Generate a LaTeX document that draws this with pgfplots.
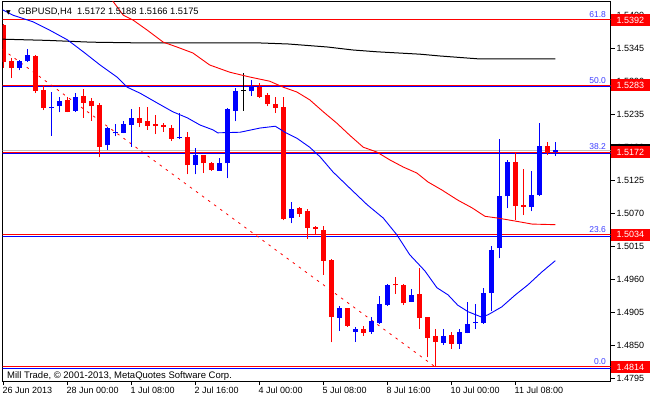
\documentclass[border=0pt]{standalone}
\usepackage{fontspec}
\setmainfont{Liberation Sans}
\usepackage{pgfplots}
\usepackage{pgfplotstable}
\pgfplotsset{compat=1.18}

\definecolor{lvlblue}{RGB}{60,60,255}
\definecolor{bidgray}{RGB}{192,192,192}

% H4 candles, k = bar index (26 Jun 16:00 = 0)
\pgfplotstableread{
k O H L C
2 1.5312 1.5326 1.5308 1.5324
3 1.5323 1.5344 1.5322 1.5334
6 1.5245 1.5272 1.5199 1.5247
7 1.5248 1.5264 1.5238 1.5257
9 1.5241 1.5271 1.5239 1.5264
13 1.5183 1.5214 1.5175 1.5212
14 1.5203 1.5218 1.5198 1.5205
15 1.5204 1.5223 1.5203 1.5218
16 1.5217 1.5244 1.5181 1.5228
22 1.5195 1.5237 1.5193 1.5196
24 1.5150 1.5178 1.5135 1.5167
27 1.5141 1.5162 1.5141 1.5154
28 1.5153 1.5245 1.5128 1.5243
29 1.5241 1.5279 1.5223 1.5273
31 1.5273 1.5292 1.5266 1.5281
36 1.5062 1.5089 1.5053 1.5077
42 1.4896 1.4916 1.4874 1.4912
44 1.4873 1.4881 1.4856 1.4878
46 1.4873 1.4898 1.4869 1.4891
47 1.4887 1.4933 1.4885 1.4919
48 1.4917 1.4952 1.4916 1.4951
51 1.4923 1.4944 1.4922 1.4934
55 1.4854 1.4877 1.4851 1.4866
57 1.4853 1.4877 1.4844 1.4873
58 1.4871 1.4923 1.4870 1.4886
59 1.4887 1.4919 1.4877 1.4889
60 1.4887 1.4945 1.4886 1.4938
61 1.4937 1.5015 1.4908 1.5009
62 1.5012 1.5194 1.4995 1.5099
63 1.5098 1.5159 1.5078 1.5156
66 1.5081 1.5141 1.5073 1.5101
67 1.5101 1.5221 1.5099 1.5182
69 1.5172 1.5188 1.5166 1.5175
}\bull

\pgfplotstableread{
k O H L C
0 1.5384 1.5385 1.5312 1.5322
1 1.5324 1.5329 1.5295 1.5312
4 1.5332 1.5333 1.5270 1.5274
5 1.5275 1.5282 1.5242 1.5246
8 1.5259 1.5264 1.5238 1.5239
10 1.5265 1.5277 1.5229 1.5254
11 1.5257 1.5262 1.5224 1.5248
12 1.5250 1.5254 1.5163 1.5181
17 1.5228 1.5247 1.5213 1.5221
18 1.5223 1.5247 1.5209 1.5216
19 1.5218 1.5233 1.5202 1.5215
20 1.5217 1.5220 1.5206 1.5213
21 1.5212 1.5217 1.5190 1.5194
23 1.5197 1.5205 1.5135 1.5150
25 1.5167 1.5167 1.5137 1.5153
26 1.5154 1.5156 1.5141 1.5142
32 1.5281 1.5287 1.5262 1.5264
33 1.5267 1.5271 1.5248 1.5252
34 1.5252 1.5264 1.5237 1.5246
35 1.5247 1.5263 1.5058 1.5060
37 1.5078 1.5081 1.5064 1.5069
38 1.5073 1.5077 1.5027 1.5046
39 1.5047 1.5049 1.5034 1.5043
40 1.5042 1.5049 1.4968 1.4991
41 1.4992 1.4993 1.4855 1.4897
43 1.4912 1.4913 1.4881 1.4883
45 1.4877 1.4882 1.4866 1.4871
49 1.4952 1.4964 1.4936 1.4950
50 1.4951 1.4952 1.4917 1.4920
52 1.4935 1.4979 1.4877 1.4896
53 1.4898 1.4898 1.4830 1.4863
54 1.4866 1.4877 1.4814 1.4856
56 1.4867 1.4873 1.4844 1.4853
64 1.5156 1.5171 1.5059 1.5082
65 1.5084 1.5144 1.5067 1.5081
68 1.5182 1.5188 1.5167 1.5170
}\bear

\pgfplotstableread{
k O H L C
30 1.5273 1.5303 1.5241 1.5273
}\doji

\pgfplotsset{
  wick/.style={draw=none, mark=none, forget plot,
    error bars/.cd, y dir=plus, y explicit, error mark=none,
    error bar style={draw=#1, line width=1pt, solid}},
  body/.style={draw=none, mark=none, forget plot,
    error bars/.cd, y dir=plus, y explicit, error mark=none,
    error bar style={draw=#1, line width=5pt, solid}},
}

\begin{document}
\begin{tikzpicture}
\useasboundingbox (0,0) rectangle (650pt,400pt);
\begin{axis}[
  at={(2.5pt,19pt)}, anchor=south west,
  scale only axis, width=608pt, height=380pt,
  xmin=-0.1, xmax=75.9, ymin=1.47906, ymax=1.54236,
  axis line style={black, line width=1pt},
  tick style={black, line width=1pt},
  tick align=outside, major tick length=4pt,
  xtick pos=left, ytick pos=right, yticklabel pos=right,
  xtick={0,8,...,64},
  xticklabels={26 Jun 2013, 28 Jun 00:00, 1 Jul 08:00, 2 Jul 16:00, 4 Jul 00:00, 5 Jul 08:00, 8 Jul 16:00, 10 Jul 00:00, 11 Jul 08:00},
  ytick={1.4795,1.4850,1.4905,1.4960,1.5015,1.5070,1.5125,1.5180,1.5235,1.5290,1.5345,1.5400},
  /pgf/number format/fixed, /pgf/number format/fixed zerofill,
  /pgf/number format/precision=4, /pgf/number format/assume math mode=true,
  every tick label/.append style={font=\fontsize{9}{10}\selectfont, inner sep=0pt},
  xticklabel style={anchor=north west, xshift=-0.8pt, yshift=-2pt},
  yticklabel style={anchor=west, xshift=2pt},
  scaled y ticks=false,
]
% fibonacci levels
\addplot[red, line width=1pt] coordinates {(-1,1.5392) (80,1.5392)};
\addplot[red, line width=1pt] coordinates {(-1,1.5283) (80,1.5283)};
\addplot[blue, line width=1pt, yshift=-1.3pt] coordinates {(-1,1.5283) (80,1.5283)};
\addplot[bidgray, line width=1pt] coordinates {(-1,1.5175) (80,1.5175)};
\addplot[red, line width=1pt] coordinates {(-1,1.5172) (80,1.5172)};
\addplot[blue, line width=1pt, yshift=-1.3pt] coordinates {(-1,1.5172) (80,1.5172)};
\addplot[red, line width=1pt] coordinates {(-1,1.5034) (80,1.5034)};
\addplot[blue, line width=1pt, yshift=-1.3pt] coordinates {(-1,1.5034) (80,1.5034)};
\addplot[red, line width=1pt] coordinates {(-1,1.4814) (80,1.4814)};
\addplot[blue, line width=1pt, yshift=-1.3pt] coordinates {(-1,1.4814) (80,1.4814)};
% fibo trend line
\addplot[red, line width=0.8pt, dash pattern=on 2.5pt off 5pt] coordinates {(-0.1,1.5343) (54,1.4814)};

% candles: wicks then bodies
\addplot[wick=blue] table[x=k, y=L, y error expr=\thisrow{H}-\thisrow{L}] {\bull};
\addplot[body=blue] table[x=k, y expr={min(\thisrow{O},\thisrow{C})}, y error expr={max(abs(\thisrow{C}-\thisrow{O}),0.00018)}] {\bull};
\addplot[wick=red] table[x=k, y=L, y error expr=\thisrow{H}-\thisrow{L}] {\bear};
\addplot[body=red] table[x=k, y expr={min(\thisrow{O},\thisrow{C})}, y error expr={max(abs(\thisrow{C}-\thisrow{O}),0.00018)}] {\bear};
\addplot[wick=black] table[x=k, y=L, y error expr=\thisrow{H}-\thisrow{L}] {\doji};
\addplot[body=black] table[x=k, y expr={min(\thisrow{O},\thisrow{C})}, y error expr={max(abs(\thisrow{C}-\thisrow{O}),0.00018)}] {\doji};

% moving averages
\addplot[black, line width=1pt] coordinates {
(-0.1,1.5360) (5.5,1.5358) (11,1.5355) (16.2,1.5354) (31.5,1.5354) (35.6,1.5352)
(40.5,1.5347) (43.7,1.5342) (46.7,1.5339) (52.1,1.5335) (54.6,1.5332) (59.6,1.5327) (69,1.5327)};
\addplot[red, line width=0.9pt] coordinates {
(12.6,1.5439) (13.6,1.5425) (15,1.5400) (16.2,1.5392) (18,1.5375) (20,1.5355) (21.7,1.5347)
(23.7,1.5337) (25.8,1.5317) (28.3,1.5305) (30.8,1.5297) (33.3,1.5290) (35,1.5280)
(36.7,1.5272) (38.3,1.5259) (40,1.5239) (41.7,1.5220) (43.3,1.5200) (45,1.5180)
(46.7,1.5172) (48.3,1.5159) (50,1.5147) (51.7,1.5137) (53.1,1.5122) (54.8,1.5109)
(56.8,1.5092) (58.6,1.5079) (60.2,1.5065) (61.8,1.5062) (64,1.5057) (66.1,1.5052) (69,1.5051)};
\addplot[blue, line width=0.9pt] coordinates {
(-0.1,1.5409) (1.2,1.5400) (3.7,1.5389) (5.8,1.5375) (8,1.5359) (10,1.5339) (12.1,1.5317)
(14.2,1.5297) (15.5,1.5280) (17.1,1.5270) (19.2,1.5254) (21.2,1.5239) (23,1.5229)
(24.6,1.5217) (26.2,1.5209) (26.8,1.5204) (29.6,1.5205) (32.1,1.5212) (34,1.5215)
(35.2,1.5205) (36.7,1.5195) (38.3,1.5180) (39.6,1.5164) (41.2,1.5139) (43.3,1.5112)
(45.5,1.5084) (47.5,1.5062) (49.2,1.5034) (50.8,1.5001) (52.7,1.4974) (54.2,1.4946)
(55.6,1.4934) (56.8,1.4917) (58.1,1.4906) (59.8,1.4897) (60.6,1.4901) (62.3,1.4914)
(64,1.4934) (65.6,1.4951) (67.3,1.4972) (69,1.4991)};

% level captions
\begin{scope}[every node/.style={anchor=south east, text=lvlblue, inner sep=0pt, font=\fontsize{8.5}{9}\selectfont}]
\node at (axis cs:75.35,1.5395) {61.8};
\node at (axis cs:75.35,1.5286) {50.0};
\node at (axis cs:75.35,1.5175) {38.2};
\node at (axis cs:75.35,1.5037) {23.6};
\node at (axis cs:75.35,1.4817) {0.0};
\end{scope}

\node[anchor=base west, inner sep=0pt, font=\fontsize{6}{7}\selectfont] at (rel axis cs:0,1) [xshift=3.5pt, yshift=-13pt] {\fontspec{DejaVu Sans}▼};
\node[anchor=base west, inner sep=0pt, font=\fontsize{9.3}{10}\selectfont] at (rel axis cs:0,1) [xshift=15.5pt, yshift=-13pt] {GBPUSD,H4\ \ 1.5172 1.5188 1.5166 1.5175};
\node[anchor=base west, inner sep=0pt, font=\fontsize{9.5}{10}\selectfont] at (rel axis cs:0,0) [xshift=4.5pt, yshift=3pt] {Mill Trade, © 2001-2013, MetaQuotes Software Corp.};

\coordinate (p1) at (axis cs:75.9,1.5392);
\coordinate (p2) at (axis cs:75.9,1.5283);
\coordinate (p3) at (axis cs:75.9,1.5172);
\coordinate (p3b) at (axis cs:75.9,1.5175);
\coordinate (p4) at (axis cs:75.9,1.5034);
\coordinate (p5) at (axis cs:75.9,1.4814);
\end{axis}
\begin{scope}[every node/.style={anchor=west, fill=red, text=white, inner xsep=5.5pt, inner ysep=0pt,
  minimum height=12pt, text width=36pt, align=left, font=\fontsize{9}{10}\selectfont}]
\node[fill=black] at ([xshift=0.5pt]p3b) {\phantom{1.5175}};
\node at ([xshift=0.5pt]p1) {1.5392};
\node at ([xshift=0.5pt]p2) {1.5283};
\node at ([xshift=0.5pt]p3) {1.5172};
\node at ([xshift=0.5pt]p4) {1.5034};
\node at ([xshift=0.5pt]p5) {1.4814};
\end{scope}
\end{tikzpicture}
\end{document}
